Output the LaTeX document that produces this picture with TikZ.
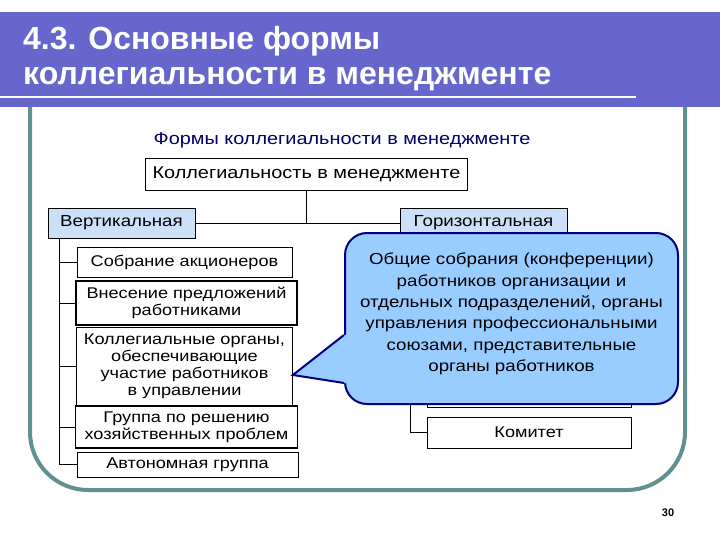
\documentclass[tikz,border=0pt]{standalone}
\usepackage{fontspec}
\setmainfont{Liberation Sans}
\newfontfamily\boxfont{Liberation Sans}[FakeStretch=1.17]
\usetikzlibrary{positioning}
\definecolor{bannerblue}{RGB}{102,102,204}
\definecolor{frameteal}{RGB}{96,144,144}
\definecolor{navytext}{RGB}{0,0,102}
\definecolor{levelblue}{RGB}{204,224,250}
\definecolor{calloutblue}{RGB}{153,204,255}
\definecolor{calloutline}{RGB}{0,0,128}
\tikzset{
  formbox/.style={draw, thick, fill=white, inner sep=0pt, align=center, font=\boxfont\fontsize{15.5}{17}\selectfont},
  formbox2/.style={formbox, very thick},
  levelbox/.style={formbox, fill=levelblue, font=\boxfont\fontsize{16}{18}\selectfont},
  calloutbox/.style={draw=calloutline, line width=2pt, fill=calloutblue, rounded corners=22pt, inner sep=0pt, align=center, font=\boxfont\fontsize{16}{21.4}\selectfont},
  titletext/.style={anchor=base west, white, inner sep=0pt, font=\fontsize{32}{35}\selectfont\bfseries},
  treeline/.style={thick}
}

\begin{document}
\begin{tikzpicture}[x=1pt, y=-1pt]
  \useasboundingbox (0,0) rectangle (720,540);
  % frame and title bar
  \draw[frameteal, line width=4pt, rounded corners=58pt] (30,100) -- (30,490) -- (685,490) -- (685,100);
  \node[fill=bannerblue, minimum width=720pt, minimum height=95pt, inner sep=0pt, anchor=north west] (banner) at (0,12) {};
  \draw[white, line width=2pt] (0,97) -- (636,97);
  \node[titletext] (title1) at (23,50) {4.3. Основные формы};
  \node[titletext] (title2) at (23,85) {коллегиальности в менеджменте};

  % tree
  \node[text=navytext, font=\boxfont\fontsize{17}{19}\selectfont] (heading) at (342,140) {Формы коллегиальности в менеджменте};
  \node[formbox, font=\boxfont\fontsize{17}{19}\selectfont, minimum width=322pt, minimum height=32pt] (root) at (306.5,174) {Коллегиальность в менеджменте};
  \node[levelbox, minimum width=147pt, minimum height=30pt] (vert) at (121.5,223) {Вертикальная};
  \node[levelbox, minimum width=167pt, minimum height=30pt] (horz) at (483.5,223) {Горизонтальная};
  \draw[treeline] (root.south) -- (root.south |- vert.east);
  \draw[treeline] (vert.east) -- (horz.west);

  \node[formbox, minimum width=215pt, minimum height=30pt] (share) at (184.5,262) {Собрание акционеров};
  \node[formbox2, minimum width=221pt, minimum height=44pt] (propose) at (186.5,303) {Внесение предложений\\работниками};
  \node[formbox, minimum width=216pt, minimum height=78pt] (organs) at (184.5,366) {Коллегиальные органы,\\обеспечивающие\\участие работников\\в управлении};
  \node[formbox2, minimum width=222pt, minimum height=42pt] (problem) at (186.5,427) {Группа по решению\\хозяйственных проблем};
  \node[formbox, minimum width=221pt, minimum height=25pt] (auto) at (187.5,464.5) {Автономная группа};
  \draw[treeline] ([xshift=12pt]vert.south west) -- ([xshift=12pt]vert.south west |- auto.west);
  \foreach \n in {share,propose,organs,problem,auto}
    \draw[treeline] ([xshift=12pt]vert.south west |- \n.west) -- (\n.west);

  \node[formbox, minimum width=204pt, minimum height=36pt] (trade) at (529.5,389) {};
  \node[formbox, minimum width=204pt, minimum height=31pt] (committee) at (529,432.5) {Комитет};
  \draw[treeline] ([xshift=11pt]horz.south west) -- ([xshift=11pt]horz.south west |- committee.west) -- (committee.west);
  \draw[treeline] ([xshift=11pt]horz.south west |- trade.west) -- (trade.west);

  % callout
  \node[calloutbox, minimum width=333pt, minimum height=171pt] (note) at (511.5,318.5) {Общие собрания (конференции)\\работников организации и\\отдельных подразделений, органы\\управления профессиональными\\союзами, представительные\\органы работников\\[-9pt]};
  \coordinate (pa) at ([yshift=-16.5pt]note.west);
  \coordinate (pb) at ([yshift=-64.5pt]note.west);
  \fill[calloutblue] (pa) -- ([yshift=-9pt]organs.east) -- (pb) -- ([xshift=4pt]pb) -- ([xshift=4pt]pa) -- cycle;
  \draw[calloutline, line width=2pt] (pa) -- ([yshift=-9pt]organs.east) -- (pb);

  \node[font=\fontsize{11}{13}\selectfont\bfseries] (pagenum) at (668,513) {30};
\end{tikzpicture}
\end{document}
